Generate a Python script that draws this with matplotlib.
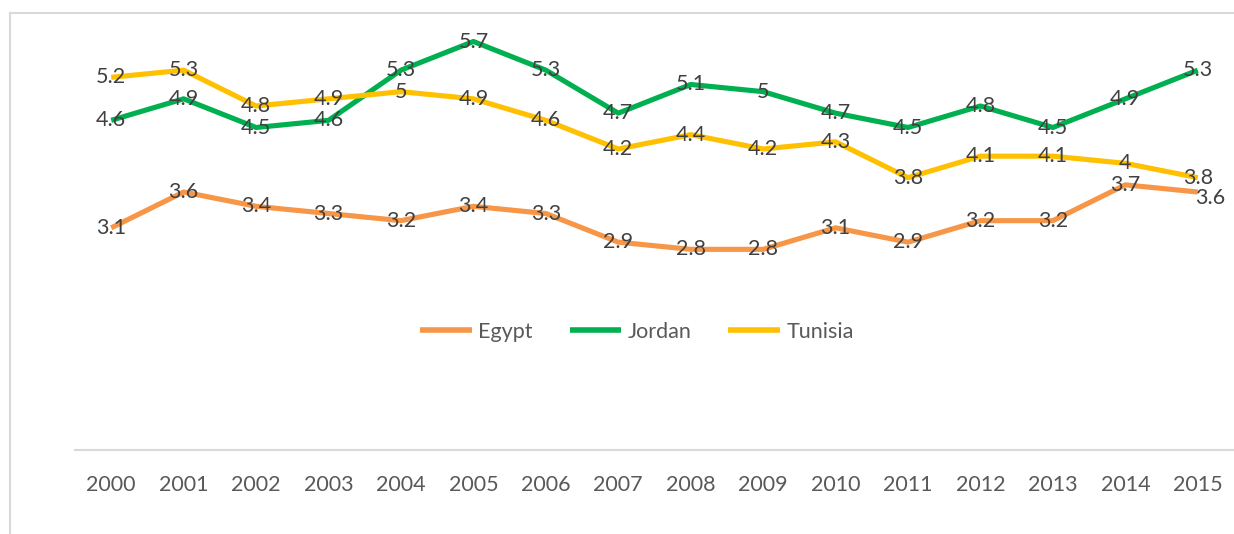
import matplotlib
matplotlib.use("Agg")
import matplotlib.pyplot as plt
from matplotlib.lines import Line2D
from matplotlib.transforms import offset_copy

years = [str(y) for y in range(2000, 2016)]
egypt = [3.1, 3.6, 3.4, 3.3, 3.2, 3.4, 3.3, 2.9, 2.8, 2.8, 3.1, 2.9, 3.2, 3.2, 3.7, 3.6]
jordan = [4.6, 4.9, 4.5, 4.6, 5.3, 5.7, 5.3, 4.7, 5.1, 5, 4.7, 4.5, 4.8, 4.5, 4.9, 5.3]
tunisia = [5.2, 5.3, 4.8, 4.9, 5, 4.9, 4.6, 4.2, 4.4, 4.2, 4.3, 3.8, 4.1, 4.1, 4, 3.8]

series = [("Egypt", egypt, "#F79646"), ("Jordan", jordan, "#00B050"), ("Tunisia", tunisia, "#FFC000")]

plt.rcParams['font.family'] = ['Lato', 'DejaVu Sans']
W, H = 1234, 534
fig = plt.figure(figsize=(W / 100, H / 100), dpi=100)
ax = fig.add_axes([75 / W, 1 - 450 / H, (1234 - 75) / W, (450 - 20) / H])

x = list(range(len(years)))
for name, vals, col in series:
    ax.plot(x, vals, color=col, lw=3.7, label=name, solid_capstyle='butt', zorder=2)
for name, vals, col in series:
    for xi, v in zip(x, vals):
        tr = ax.transData
        if name == "Egypt" and xi == len(years) - 1:
            tr = offset_copy(ax.transData, fig=fig, x=12, y=-6, units='dots')
        ax.text(xi, v, f"{v:g}", ha='center', va='center', fontsize=15.5, color='#404040',
                zorder=3, transform=tr)

ax.set_xlim(-0.5, len(years) - 0.5)
ax.set_ylim(0, 6)
ax.set_xticks(x)
ax.set_xticklabels(years, fontsize=15.5, color='#595959')
ax.tick_params(axis='x', length=0, pad=18)
ax.set_yticks([])
for s in ['left', 'right', 'top']:
    ax.spines[s].set_visible(False)
ax.spines['bottom'].set_color('#D9D9D9')
ax.spines['bottom'].set_linewidth(1.5)

leg = ax.legend(loc='center', bbox_to_anchor=(637 / W, 1 - 332 / H), bbox_transform=fig.transFigure,
                ncol=3, frameon=False, fontsize=15.5, handlelength=2.4, handletextpad=0.3,
                columnspacing=1.7)
for t in leg.get_texts():
    t.set_color('#595959')
for h in leg.get_lines():
    h.set_linewidth(4)

# chart area border (partially visible)
fig.add_artist(Line2D([10 / W, 10 / W], [1 - 13 / H, -0.1], transform=fig.transFigure, color='#D9D9D9', lw=1.5))
fig.add_artist(Line2D([10 / W, 1.1], [1 - 13 / H, 1 - 13 / H], transform=fig.transFigure, color='#D9D9D9', lw=1.5))

fig.savefig("out.png", dpi=100)
